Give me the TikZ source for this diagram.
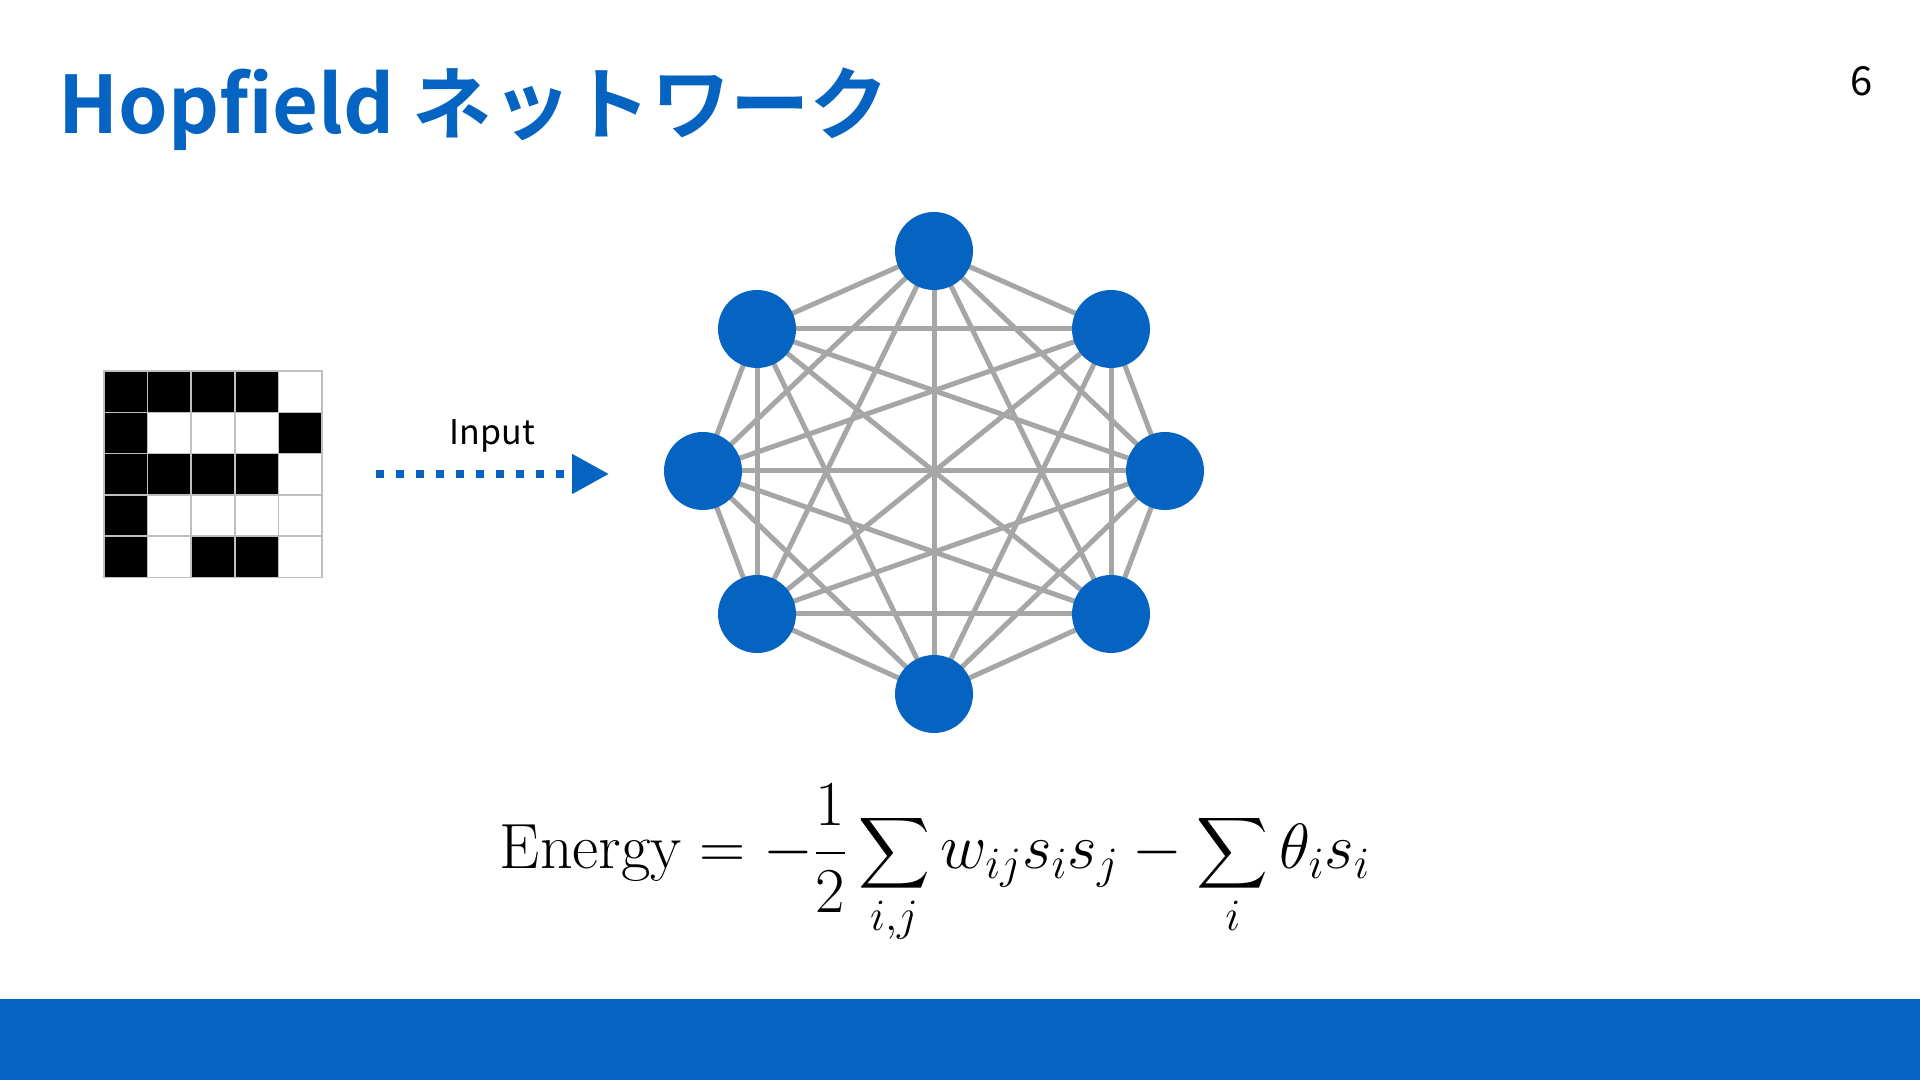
\RequirePackage{fix-cm}
\documentclass[tikz,border=0pt]{standalone}
\usepackage{amsmath}
\usepackage{fontspec}
\newfontfamily\jpsans[BoldFont={Noto Sans CJK JP Bold}]{Noto Sans CJK JP}
\usetikzlibrary{arrows.meta, positioning, backgrounds}

\definecolor{hopblue}{RGB}{5,99,193}
\definecolor{linkgray}{RGB}{166,166,166}
\definecolor{gridgray}{RGB}{191,191,191}

\begin{document}
\begin{tikzpicture}[
          x=0.5pt, y=0.5pt,
          title/.style={inner sep=0pt, text=hopblue,
                        font=\jpsans\bfseries\fontsize{39.7}{48}\selectfont},
          pnum/.style={inner sep=0pt, font=\jpsans\fontsize{20}{24}\selectfont},
          lbl/.style={inner sep=0pt, font=\jpsans\fontsize{17}{20}\selectfont},
          cell/.style={rectangle, draw=gridgray, line width=0.75pt,
                       minimum width=21.8pt, minimum height=20.65pt,
                       inner sep=0pt},
          cell0/.style={fill=white},
          cell1/.style={fill=black},
          unit/.style={circle, fill=hopblue, minimum size=39pt, inner sep=0pt},
          link/.style={draw=linkgray, line width=2.5pt},
          arr/.style={-{Triangle[length=18.5pt, width=19pt]}, hopblue,
                      line width=4pt, dash pattern=on 4pt off 6pt},
        ]
          \useasboundingbox (0,0) rectangle (1920,1080);

          % heading and page number
          \node[title, anchor=base west] (ttl) at (58,946) {Hopfield ネットワーク};
          \node[pnum, anchor=base] (pg) at (1862,984) {6};

          % 5x5 input pattern
          \foreach \row [count=\r] in {{1,1,1,1,0},{1,0,0,0,1},{1,1,1,1,0},
                                       {1,0,0,0,0},{1,0,1,1,0}}
            \foreach \v [count=\c] in \row
              \node[cell, cell\v] (c\r\c) at ({104+43.6*(\c-0.5)}, {709-41.3*(\r-0.5)}) {};

          % input arrow
          \coordinate (inS) at (376,606);
          \coordinate (inE) at (609,606);
          \draw[arr] (inS) -- node[lbl, anchor=base, yshift=14.5pt, text=black]{Input} (inE);

          % network units
          \node[unit] (n1) at (934,829) {};
          \node[unit] (n2) at (1111,751) {};
          \node[unit] (n3) at (1165,609) {};
          \node[unit] (n4) at (1111,466) {};
          \node[unit] (n5) at (934,386) {};
          \node[unit] (n6) at (757,466) {};
          \node[unit] (n7) at (703,609) {};
          \node[unit] (n8) at (757,751) {};

          \begin{scope}[on background layer]
            \fill[white] (0,0) rectangle (1920,1080);
            \foreach \i in {1,...,7} {
              \pgfmathtruncatemacro\k{\i+1}
              \foreach \j in {\k,...,8}
                \draw[link] (n\i.center) -- (n\j.center);
            }
          \end{scope}

          % energy
          \node[inner sep=0pt, anchor=base, font=\fontsize{32}{38}\selectfont] (eq) at (935,211)
            {$\displaystyle \mathrm{Energy} = -\frac{1}{2}\sum_{i,j} w_{ij}s_is_j - \sum_{i}\theta_i s_i$};

          % footer band
          \fill[hopblue] (0,0) rectangle (1920,81);
        \end{tikzpicture}
\end{document}
